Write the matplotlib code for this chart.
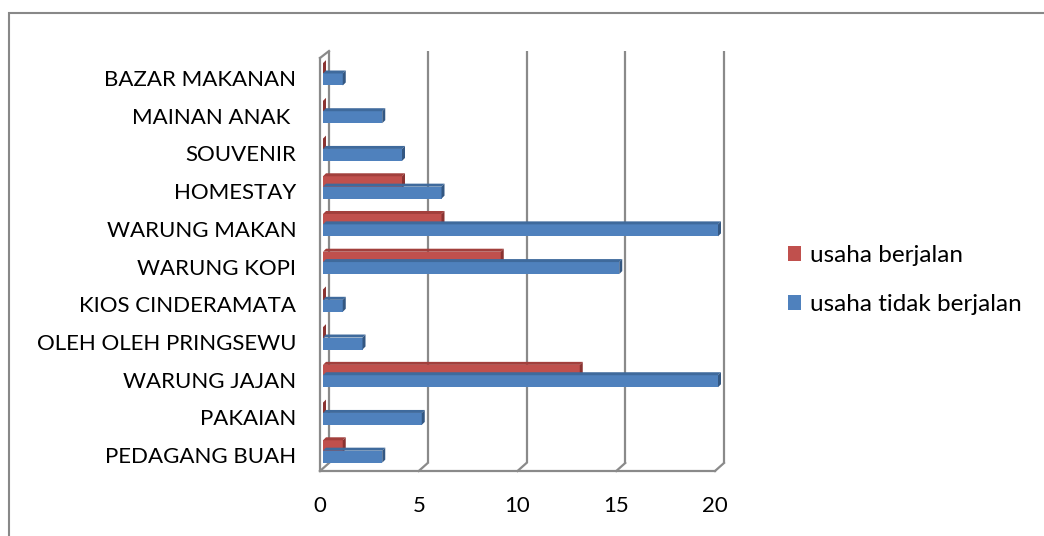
import numpy as np
import matplotlib
matplotlib.use("Agg")
import matplotlib.pyplot as plt
from matplotlib.patches import Polygon, Patch, Rectangle

plt.rcParams['font.family'] = ['Lato', 'DejaVu Sans']

# data (bottom to top as drawn)
categories = ['PEDAGANG BUAH', 'PAKAIAN', 'WARUNG JAJAN', 'OLEH OLEH PRINGSEWU',
              'KIOS CINDERAMATA', 'WARUNG KOPI', 'WARUNG MAKAN', 'HOMESTAY',
              'SOUVENIR', 'MAINAN ANAK ', 'BAZAR MAKANAN']
usaha_berjalan = [1, 0, 13, 0, 0, 9, 6, 4, 0, 0, 0]
usaha_tidak_berjalan = [3, 5, 20, 2, 1, 15, 20, 6, 4, 3, 1]
series_names = ['usaha berjalan', 'usaha tidak berjalan']
xticks = [0, 5, 10, 15, 20]

W, H = 1044, 536
fig = plt.figure(figsize=(W / 100, H / 100), dpi=100)

# front plane of the fake 3d box
ax_l, ax_r, ax_t, ax_b = 320, 715, 58, 471
ax = fig.add_axes([ax_l / W, 1 - ax_b / H, (ax_r - ax_l) / W, (ax_b - ax_t) / H])
ylo, yhi = -0.42, 10.53
ax.set_xlim(0, 20)
ax.set_ylim(ylo, yhi)
ux = 20 / (ax_r - ax_l)          # data units per pixel
uy = (yhi - ylo) / (ax_b - ax_t)

for s in ax.spines.values():
    s.set_visible(False)

gray = '#8a8a8a'
lw = 1.6
bdx, bdy_top, bdy_bot = 9, 7, 8   # back plane offset in px

# back gridlines + floor diagonals
for v in xticks:
    xb = v + bdx * ux
    ax.plot([xb, xb], [ylo + bdy_bot * uy, yhi + bdy_top * uy], color=gray, lw=lw,
            clip_on=False, zorder=1, solid_capstyle='butt')
    ax.plot([xb, v], [ylo + bdy_bot * uy, ylo], color=gray, lw=lw, clip_on=False, zorder=1)
# floor front edge and left wall
ax.plot([0, 20], [ylo, ylo], color=gray, lw=lw, clip_on=False, zorder=1)
ax.plot([0, 0], [ylo, yhi], color=gray, lw=lw, clip_on=False, zorder=1)
ax.plot([0, bdx * ux], [yhi, yhi + bdy_top * uy], color=gray, lw=lw, clip_on=False, zorder=1)

# 3d-ish bars
def bar3d(y, val, h, face, top, side):
    x0 = 3 * ux
    x1 = x0 + val
    dx, dy = 3 * ux, 3 * uy
    y0, y1 = y - h / 2, y + h / 2
    polys = [([(x0, y0), (x1, y0), (x1, y1), (x0, y1)], face),
             ([(x0, y1), (x1, y1), (x1 + dx, y1 + dy), (x0 + dx, y1 + dy)], top),
             ([(x1, y0), (x1 + dx, y0 + dy), (x1 + dx, y1 + dy), (x1, y1)], side)]
    for pts, c in polys:
        ax.add_patch(Polygon(pts, closed=True, fc=c, ec='none', zorder=3, clip_on=False))

red = ('#c0504d', '#a23f3c', '#8a3331')
blue = ('#4f81bd', '#3f6a9c', '#335782')
h = 12 * uy
pos = np.arange(len(categories))
for i in pos:
    bar3d(i + 0.235, usaha_berjalan[i], h, *red)
for i in pos:
    bar3d(i - 0.04, usaha_tidak_berjalan[i], h, *blue)

fs = 16
ax.set_yticks(pos)
ax.set_yticklabels(categories, fontsize=fs)
ax.set_xticks(xticks)
ax.set_xticklabels([str(t) for t in xticks], fontsize=fs)
ax.tick_params(axis='y', length=0, pad=17)
ax.tick_params(axis='x', length=0, pad=18)

handles = [Patch(fc=red[0], ec='none'), Patch(fc=blue[0], ec='none')]
fig.legend(handles, series_names, loc='center left', bbox_to_anchor=(788 / W, 1 - 280 / H),
           frameon=False, fontsize=17.5, handlelength=0.55, handleheight=0.55,
           handletextpad=0.35, labelspacing=1.15, borderpad=0, borderaxespad=0)

# chart border (runs off right and bottom)
fig.add_artist(Rectangle((9 / W, -0.1), 1.2, 1 - 12.5 / H + 0.1, transform=fig.transFigure,
                         fill=False, ec='#888888', lw=1.5))

fig.savefig('out.png', dpi=100)
